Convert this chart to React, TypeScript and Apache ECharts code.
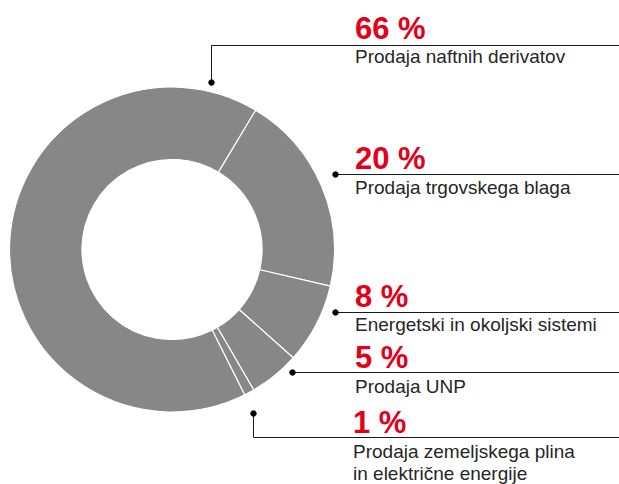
import React, { useEffect, useRef } from "react";
import * as echarts from "echarts";

const categories = [
  "Prodaja naftnih derivatov",
  "Prodaja trgovskega blaga",
  "Energetski in okoljski sistemi",
  "Prodaja UNP",
  "Prodaja zemeljskega plina\nin električne energije",
];
const values = [66, 20, 8, 5, 1];
const percentLabels = ["66 %", "20 %", "8 %", "5 %", "1 %"];

// label layout (positions only)
const labelLayout = [
  { dot: [211, 82], corner: [211.5, 45.5], lineY: 45.5, pctY: 28, descY: 56.5, x: 355 },
  { dot: [335, 174], corner: null, lineY: 174.5, pctY: 158, descY: 187, x: 355 },
  { dot: [335, 312], corner: null, lineY: 312.5, pctY: 296.5, descY: 324, x: 355 },
  { dot: [292, 372], corner: null, lineY: 372.5, pctY: 357.5, descY: 386, x: 355 },
  { dot: [253, 413], corner: [253.5, 437.5], lineY: 437.5, pctY: 422, descY: 451.5, x: 353 },
];

const RED = "#e2001a";
const INK = "#1a1a1a";
const GRAY = "#878787";
const FONT = "'Liberation Sans', Arial, sans-serif";

export default function App() {
  const ref = useRef<HTMLDivElement>(null);
  useEffect(() => {
    if (!ref.current) return;
    const chart = echarts.init(ref.current, undefined, { renderer: "svg" });
    const graphics: any[] = [];
    labelLayout.forEach((l, i) => {
      const pts: number[][] = [];
      if (l.corner) {
        pts.push([l.corner[0], l.dot[1]], [l.corner[0], l.corner[1]], [619, l.lineY]);
      } else {
        pts.push([l.dot[0], l.lineY], [619, l.lineY]);
      }
      graphics.push({
        type: "polyline",
        shape: { points: pts },
        style: { stroke: INK, lineWidth: 1, fill: null },
        silent: true,
      });
      graphics.push({
        type: "circle",
        shape: { cx: l.dot[0] + 0.5, cy: l.dot[1] + 0.5, r: 3.2 },
        style: { fill: "#000" },
        silent: true,
      });
      graphics.push({
        type: "text",
        x: l.x,
        y: l.pctY,
        style: {
          text: percentLabels[i],
          fill: RED,
          font: `bold 31px ${FONT}`,
          verticalAlign: "middle",
          align: "left",
        },
        silent: true,
      });
      graphics.push({
        type: "text",
        x: l.x,
        y: l.descY - 11,
        style: {
          text: categories[i],
          fill: "#262626",
          font: `19px ${FONT}`,
          lineHeight: 22,
          verticalAlign: "top",
          align: "left",
        },
        silent: true,
      });
    });
    chart.setOption({
      animation: false,
      series: [
        {
          type: "pie",
          center: [172, 249.5],
          radius: [90, 162.5],
          startAngle: 90 - 153.4,
          clockwise: true,
          label: { show: false },
          labelLine: { show: false },
          itemStyle: { color: GRAY, borderColor: "#fff", borderWidth: 1.2 },
          emphasis: { disabled: true },
          data: categories.map((c, i) => ({ name: c, value: values[i] })),
        },
      ],
      graphic: graphics,
    });
    return () => chart.dispose();
  }, []);
  return (
    <div
      ref={ref}
      style={{ position: "absolute", left: 0, top: 0, width: 619, height: 484 }}
    />
  );
}
